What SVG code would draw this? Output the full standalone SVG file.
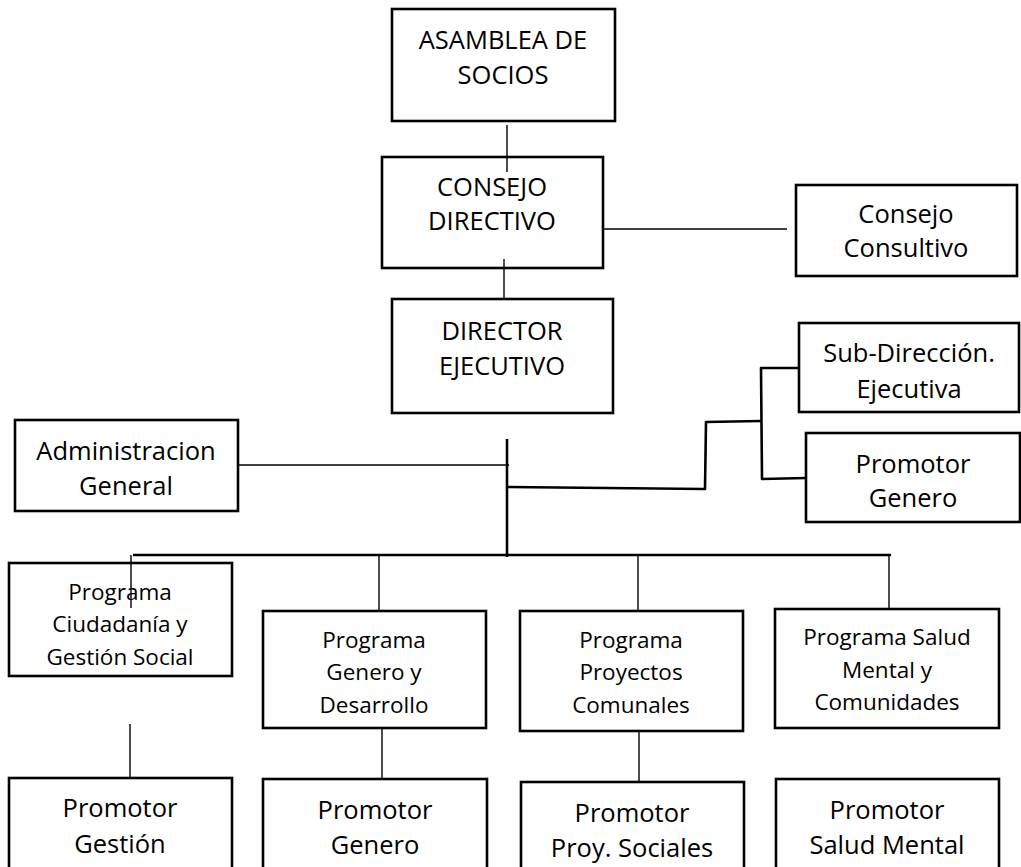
<svg xmlns="http://www.w3.org/2000/svg" width="1021" height="867" viewBox="0 0 1021 867">
  <style>
    .box { fill: #ffffff; stroke: #000000; stroke-width: 2.6; }
    .lbl { font-family: "Open Sans", "Noto Sans", "DejaVu Sans", sans-serif; font-size: 25.5px; fill: #000000; text-anchor: middle; }
    .sm { font-size: 22.5px; }
    .thin { fill: none; stroke: #000000; stroke-width: 1.4; }
    .thick { fill: none; stroke: #000000; stroke-width: 2.6; stroke-linejoin: round; }
  </style>
  <rect width="1021" height="867" fill="#ffffff"/>

  <g id="connectors">
    <line class="thin" x1="507" y1="125" x2="507" y2="172"/>
    <line class="thin" x1="603" y1="229" x2="787" y2="229"/>
    <line class="thin" x1="504" y1="259" x2="504" y2="299"/>
    <line class="thin" x1="238" y1="465" x2="509" y2="465"/>
    <line class="thick" x1="507" y1="439" x2="507" y2="557"/>
    <polyline class="thick" points="507,487 705,489 706,422 761,421"/>
    <polyline class="thick" points="799,368 761,368 762,479 806,478"/>
    <line class="thick" x1="133" y1="555" x2="891" y2="555"/>
    <line class="thin" x1="131" y1="555" x2="131" y2="608"/>
    <line class="thin" x1="379" y1="555" x2="379" y2="611"/>
    <line class="thin" x1="638" y1="555" x2="638" y2="611"/>
    <line class="thin" x1="889" y1="555" x2="889" y2="609"/>
    <line class="thin" x1="130" y1="724" x2="130" y2="778"/>
    <line class="thin" x1="382" y1="726" x2="382" y2="779"/>
    <line class="thin" x1="639" y1="731" x2="639" y2="782"/>
  </g>

  <g id="asamblea">
    <rect class="box" x="392" y="9" width="223" height="112"/>
    <text class="lbl" x="503" y="49">ASAMBLEA DE</text>
    <text class="lbl" x="503" y="84">SOCIOS</text>
  </g>

  <g id="consejo-directivo">
    <rect class="box" x="382" y="157" width="221" height="111" fill-opacity="0"/>
    <text class="lbl" x="492" y="196">CONSEJO</text>
    <text class="lbl" x="492" y="230">DIRECTIVO</text>
  </g>

  <g id="consejo-consultivo">
    <rect class="box" x="796" y="185" width="221" height="91"/>
    <text class="lbl" x="906" y="223">Consejo</text>
    <text class="lbl" x="906" y="257">Consultivo</text>
  </g>

  <g id="director-ejecutivo">
    <rect class="box" x="392" y="299" width="221" height="114"/>
    <text class="lbl" x="502" y="340">DIRECTOR</text>
    <text class="lbl" x="502" y="375">EJECUTIVO</text>
  </g>

  <g id="sub-direccion">
    <rect class="box" x="799" y="323" width="220" height="89"/>
    <text class="lbl" x="909" y="362">Sub-Dirección.</text>
    <text class="lbl" x="909" y="398">Ejecutiva</text>
  </g>

  <g id="promotor-genero-staff">
    <rect class="box" x="806" y="433" width="214" height="89"/>
    <text class="lbl" x="913" y="473">Promotor</text>
    <text class="lbl" x="913" y="507">Genero</text>
  </g>

  <g id="administracion">
    <rect class="box" x="15" y="420" width="223" height="91"/>
    <text class="lbl" x="126" y="460">Administracion</text>
    <text class="lbl" x="126" y="495">General</text>
  </g>

  <g id="programa-ciudadania">
    <rect class="box" x="9" y="563" width="223" height="113" fill-opacity="0"/>
    <text class="lbl sm" x="120" y="600">Programa</text>
    <text class="lbl sm" x="120" y="632">Ciudadanía y</text>
    <text class="lbl sm" x="120" y="665">Gestión Social</text>
  </g>

  <g id="programa-genero">
    <rect class="box" x="263" y="611" width="223" height="117"/>
    <text class="lbl sm" x="374" y="648">Programa</text>
    <text class="lbl sm" x="374" y="680">Genero y</text>
    <text class="lbl sm" x="374" y="713">Desarrollo</text>
  </g>

  <g id="programa-proyectos">
    <rect class="box" x="520" y="611" width="223" height="120"/>
    <text class="lbl sm" x="631" y="648">Programa</text>
    <text class="lbl sm" x="631" y="680">Proyectos</text>
    <text class="lbl sm" x="631" y="713">Comunales</text>
  </g>

  <g id="programa-salud">
    <rect class="box" x="775" y="609" width="224" height="119"/>
    <text class="lbl sm" x="887" y="645">Programa Salud</text>
    <text class="lbl sm" x="887" y="678">Mental y</text>
    <text class="lbl sm" x="887" y="710">Comunidades</text>
  </g>

  <g id="promotor-gestion">
    <rect class="box" x="9" y="778" width="223" height="100"/>
    <text class="lbl" x="120" y="817">Promotor</text>
    <text class="lbl" x="120" y="853">Gestión</text>
  </g>

  <g id="promotor-genero">
    <rect class="box" x="263" y="779" width="224" height="100"/>
    <text class="lbl" x="375" y="819">Promotor</text>
    <text class="lbl" x="375" y="854">Genero</text>
  </g>

  <g id="promotor-proyectos">
    <rect class="box" x="521" y="782" width="223" height="100"/>
    <text class="lbl" x="632" y="822">Promotor</text>
    <text class="lbl" x="632" y="857">Proy. Sociales</text>
  </g>

  <g id="promotor-salud">
    <rect class="box" x="776" y="779" width="223" height="100"/>
    <text class="lbl" x="887" y="819">Promotor</text>
    <text class="lbl" x="887" y="854">Salud Mental</text>
  </g>
</svg>
